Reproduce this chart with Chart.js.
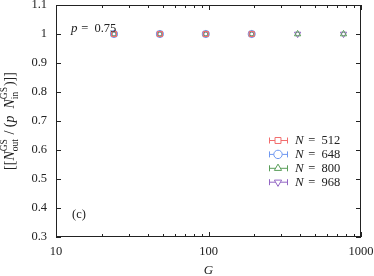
<!DOCTYPE html>
<html lang="en">
<head>
    <meta charset="UTF-8">
    <title>Ratio vs G</title>
    <script src="https://cdn.jsdelivr.net/npm/chart.js"></script>
    <style>
        body { margin: 0; background: #ffffff; }
        #wrap { width: 374px; height: 276px; }
    </style>
</head>
<body>
    <div id="wrap"><canvas id="chart"></canvas></div>
    <script>
        // data
        const gValues = [24, 48, 96, 192, 384, 768];
        const n512 = [1.0, 1.0, 1.0, 1.0];
        const n648 = [1.0, 1.0, 1.0, 1.0];
        const n800 = [1.0, 1.0, 1.0, 1.0, 1.0, 1.0];
        const n968 = [1.0, 1.0, 1.0, 1.0, 1.0, 1.0];
        const seriesLabels = ['512', '648', '800', '968'];
        const xTickLabels = [10, 100, 1000];
        const yTicks = [0.3, 0.4, 0.5, 0.6, 0.7, 0.8, 0.9, 1.0, 1.1];

        const colors = ['#f26d6d', '#6f98f0', '#5a9e5a', '#9366c4'];
        const shapes = ['rect', 'circle', 'triangle', 'triangle'];
        const rotations = [0, 0, 0, 180];
        const serif = '"Liberation Serif", "DejaVu Serif", serif';

        function pts(vals) {
            return vals.map((v, i) => ({ x: gValues[i], y: v }));
        }
        const allSeries = [n512, n648, n800, n968];

        const datasets = allSeries.map((vals, i) => ({
            label: 'N = ' + seriesLabels[i],
            data: pts(vals),
            borderColor: colors[i],
            backgroundColor: 'rgba(0,0,0,0)',
            pointStyle: shapes[i],
            pointRotation: rotations[i],
            pointRadius: 3.6,
            pointBorderWidth: 1,
            showLine: false
        }));

        // frame, inward ticks, labels and legend
        const decor = {
            id: 'decor',
            afterDraw(chart) {
                const ctx = chart.ctx;
                const a = chart.chartArea;
                const xs = chart.scales.x, ys = chart.scales.y;
                ctx.save();
                ctx.strokeStyle = '#222';
                ctx.lineWidth = 1;
                ctx.strokeRect(a.left + 0.5, a.top + 0.5, a.right - a.left - 1, a.bottom - a.top - 1);

                ctx.beginPath();
                yTicks.forEach(t => {
                    const y = Math.round(ys.getPixelForValue(t)) + 0.5;
                    ctx.moveTo(a.left, y); ctx.lineTo(a.left + 5, y);
                    ctx.moveTo(a.right, y); ctx.lineTo(a.right - 5, y);
                });
                for (let d = 10; d < 1000; d *= 10) {
                    for (let k = 1; k <= 10; k++) {
                        const v = d * k;
                        const x = Math.round(xs.getPixelForValue(v)) + 0.5;
                        const len = (k === 1 || k === 10) ? 5 : 3;
                        ctx.moveTo(x, a.bottom); ctx.lineTo(x, a.bottom - len);
                        ctx.moveTo(x, a.top); ctx.lineTo(x, a.top + len);
                    }
                }
                ctx.stroke();

                ctx.fillStyle = '#222';
                ctx.font = '12.5px ' + serif;
                ctx.textBaseline = 'middle';
                ctx.textAlign = 'right';
                yTicks.forEach(t => {
                    const s = (t === 1.0) ? '1' : t.toFixed(1);
                    ctx.fillText(s, a.left - 9, ys.getPixelForValue(t));
                });
                ctx.textAlign = 'center';
                xTickLabels.forEach(t => {
                    ctx.fillText(String(t), xs.getPixelForValue(t), 252);
                });
                ctx.font = 'italic 13px ' + serif;
                ctx.fillText('G', (a.left + a.right) / 2, 271);

                // annotations
                ctx.textAlign = 'left';
                ctx.font = 'italic 13px ' + serif;
                ctx.fillText('p', 71, 29);
                ctx.font = '12.5px ' + serif;
                ctx.fillText(' =  0.75', 78, 29);
                ctx.fillText('(c)', 72, 215);

                // y axis title
                ctx.save();
                ctx.translate(10, 121);
                ctx.rotate(-Math.PI / 2);
                const parts = [
                    ['[[', '14px', 0], ['N', 'italic 14px', 0], ['GS', '9.5px', -6, 'out', 4],
                    [' / (', '14px', 0], ['p', 'italic 14px', 0], ['  ', '14px', 0],
                    ['N', 'italic 14px', 0], ['GS', '9.5px', -6, 'in', 4], [')]]', '14px', 0]
                ];
                let w = 0;
                const widths = parts.map(p => {
                    ctx.font = p[1] + ' ' + serif;
                    let pw = ctx.measureText(p[0]).width;
                    if (p[3]) pw = Math.max(pw, ctx.measureText(p[3]).width);
                    w += pw + (p[3] ? 1 : 0);
                    return pw + (p[3] ? 1 : 0);
                });
                let x = -w / 2;
                parts.forEach((p, i) => {
                    ctx.font = p[1] + ' ' + serif;
                    ctx.textAlign = 'left';
                    ctx.fillText(p[0], x, p[2]);
                    if (p[3]) ctx.fillText(p[3], x, p[4] + 1);
                    x += widths[i];
                });
                ctx.restore();

                // legend
                const lx = 278, ly0 = 140, dy = 13.9;
                seriesLabels.forEach((lab, i) => {
                    const y = ly0 + dy * i;
                    ctx.strokeStyle = colors[i];
                    ctx.beginPath();
                    ctx.moveTo(269, y + 0.5); ctx.lineTo(287, y + 0.5);
                    ctx.moveTo(269.5, y - 2.5); ctx.lineTo(269.5, y + 3.5);
                    ctx.moveTo(287.5, y - 2.5); ctx.lineTo(287.5, y + 3.5);
                    ctx.stroke();
                    ctx.fillStyle = '#fff';
                    Chart.helpers.drawPoint(ctx, {
                        pointStyle: shapes[i], rotation: rotations[i],
                        radius: 4.2, borderWidth: 1
                    }, lx, y + 0.5);
                    ctx.fillStyle = '#222';
                    ctx.font = 'italic 13px ' + serif;
                    ctx.fillText('N', 295, y + 1);
                    ctx.font = '12.5px ' + serif;
                    ctx.fillText(' =  ' + lab, 305, y + 1);
                });
                ctx.restore();
            }
        };

        new Chart(document.getElementById('chart'), {
            type: 'scatter',
            data: { datasets: datasets },
            options: {
                responsive: true,
                maintainAspectRatio: false,
                animation: false,
                layout: { padding: { top: 5, right: 13, left: 0, bottom: 0 } },
                plugins: { legend: { display: false }, tooltip: { enabled: false } },
                scales: {
                    x: {
                        type: 'logarithmic', min: 10, max: 1000,
                        grid: { display: false }, border: { display: false },
                        ticks: { display: false },
                        afterFit: s => { s.height = 39; }
                    },
                    y: {
                        min: 0.3, max: 1.1,
                        grid: { display: false }, border: { display: false },
                        ticks: { display: false },
                        afterFit: s => { s.width = 56; }
                    }
                }
            },
            plugins: [decor]
        });
    </script>
</body>
</html>
